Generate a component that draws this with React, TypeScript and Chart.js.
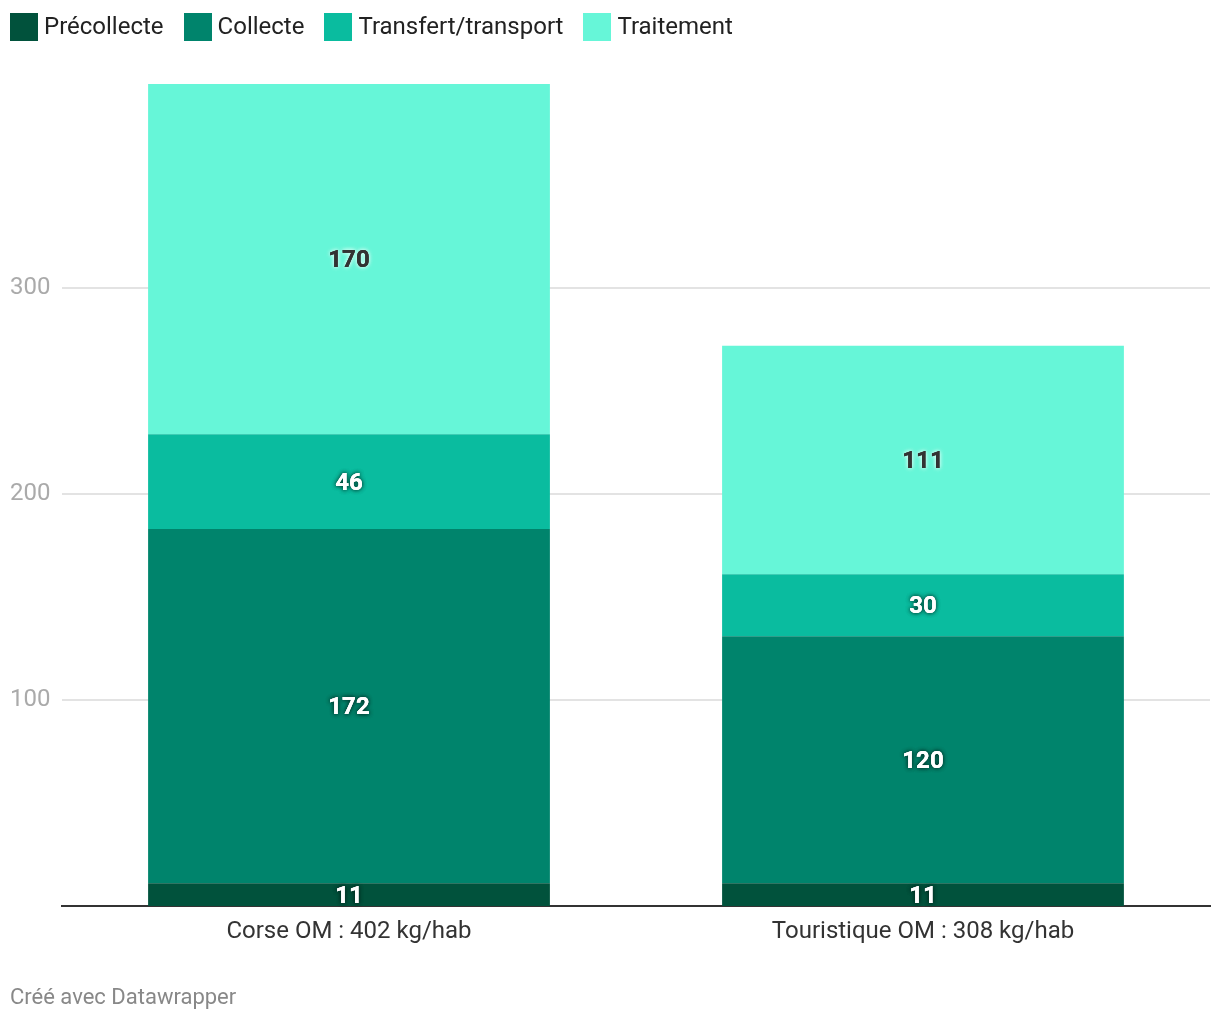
import React, { useEffect, useRef } from "react";
import { Chart, registerables } from "chart.js";

Chart.register(...registerables);

const categories = ["Corse OM : 402 kg/hab", "Touristique OM : 308 kg/hab"];
const seriesNames = ["Précollecte", "Collecte", "Transfert/transport", "Traitement"];
const precollecte = [11, 11];
const collecte = [172, 120];
const transfert = [46, 30];
const traitement = [170, 111];
const yTicks = [100, 200, 300];

const colors = ["#01523c", "#00846c", "#0abc9f", "#66f6d8"];
const labelColors = ["#ffffff", "#ffffff", "#ffffff", "#333333"];
const haloColors = ["rgba(0,40,30,0.9)", "rgba(0,50,40,0.9)", "rgba(0,70,55,0.9)", "rgba(220,255,245,0.95)"];

const FONT = "Roboto, 'Noto Sans', sans-serif";

const valueLabels = {
  id: "valueLabels",
  afterDatasetsDraw(chart: any) {
    const ctx = chart.ctx;
    ctx.save();
    ctx.font = `bold 24px ${FONT}`;
    ctx.textAlign = "center";
    ctx.textBaseline = "middle";
    chart.data.datasets.forEach((ds: any, di: number) => {
      const meta = chart.getDatasetMeta(di);
      meta.data.forEach((el: any, i: number) => {
        const v = ds.data[i];
        const x = el.x;
        const y = (el.y + el.base) / 2 + 2;
        ctx.fillStyle = labelColors[di];
        ctx.shadowColor = haloColors[di];
        ctx.shadowBlur = 4;
        ctx.fillText(String(v), x, y);
        ctx.fillText(String(v), x, y);
        ctx.shadowBlur = 0;
        ctx.shadowColor = "transparent";
        ctx.fillText(String(v), x, y);
      });
    });
    ctx.restore();
  },
};

export default function App() {
  const ref = useRef<HTMLCanvasElement>(null);
  useEffect(() => {
    if (!ref.current) return;
    const data = [precollecte, collecte, transfert, traitement];
    const chart = new Chart(ref.current, {
      type: "bar",
      data: {
        labels: categories,
        datasets: seriesNames.map((name, i) => ({
          label: name,
          data: data[i],
          backgroundColor: colors[i],
          borderWidth: 0,
          categoryPercentage: 1,
          barPercentage: 0.7,
        })),
      },
      options: {
        animation: false,
        responsive: false,
        maintainAspectRatio: false,
        layout: { padding: { left: 10, right: 10, top: 82, bottom: 64 } },
        plugins: {
          legend: { display: false },
          tooltip: { enabled: false },
        },
        scales: {
          x: {
            stacked: true,
            grid: { display: false, drawTicks: false },
            border: { display: true, color: "#333333", width: 2 },
            ticks: {
              color: "#333333",
              font: { family: FONT, size: 24 },
              padding: 12,
            },
            afterFit: (s: any) => {
              s.height = 50;
            },
          },
          y: {
            stacked: true,
            min: 0,
            max: 400,
            grid: { color: "#e3e3e3", lineWidth: 2, drawTicks: false },
            border: { display: false },
            ticks: {
              color: "#aaaaaa",
              font: { family: FONT, size: 24 },
              crossAlign: "far",
              padding: 0,
            },
            afterBuildTicks: (s: any) => {
              s.ticks = yTicks.map((v) => ({ value: v }));
            },
            afterFit: (s: any) => {
              s.width = 52;
            },
          },
        },
      },
      plugins: [valueLabels],
    });
    return () => chart.destroy();
  }, []);

  return (
    <div style={{ position: "absolute", left: 0, top: 0, width: 1220, height: 1020, background: "#fff", fontFamily: FONT }}>
      <canvas ref={ref} width={1220} height={1020} style={{ position: "absolute", left: 0, top: 0 }} />
      <div style={{ position: "absolute", left: 10, top: 13, display: "flex", alignItems: "center" }}>
        {seriesNames.map((n, i) => (
          <div key={n} style={{ display: "flex", alignItems: "center", marginRight: 20 }}>
            <span style={{ display: "inline-block", width: 28, height: 28, background: colors[i], marginRight: 6 }} />
            <span style={{ fontSize: 24, lineHeight: "28px", color: "#222", position: "relative", top: -1 }}>{n}</span>
          </div>
        ))}
      </div>
      <div style={{ position: "absolute", left: 10, top: 984, fontSize: 22, lineHeight: "26px", color: "#888" }}>
        Créé avec Datawrapper
      </div>
    </div>
  );
}
